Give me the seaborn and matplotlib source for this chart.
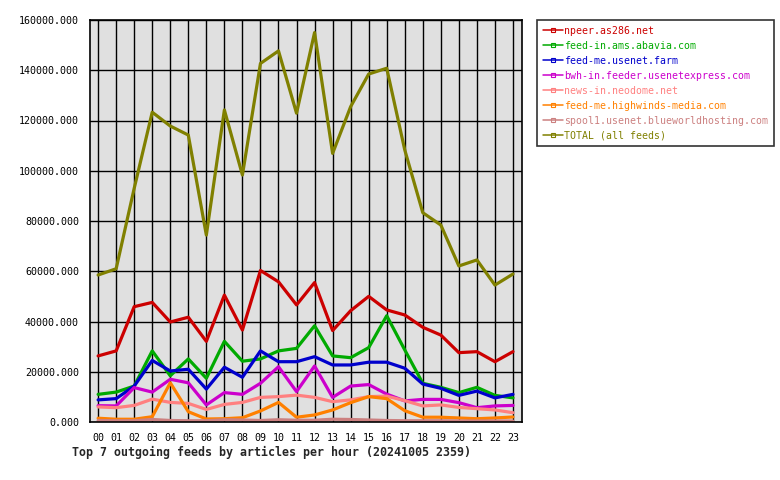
import matplotlib
matplotlib.use("Agg")
import matplotlib.pyplot as plt
from matplotlib.lines import Line2D
import seaborn as sns
import pandas as pd

hours = ["00", "01", "02", "03", "04", "05", "06", "07", "08", "09", "10", "11",
         "12", "13", "14", "15", "16", "17", "18", "19", "20", "21", "22", "23"]

npeer = [26300, 28300, 45900, 47600, 39800, 41700, 32100, 50500, 36600, 60300, 55800, 46600,
         55500, 36400, 44300, 50000, 44600, 42600, 37700, 34600, 27600, 28000, 24000, 28000]
abavia = [11000, 11900, 14300, 28300, 18400, 25100, 17400, 32100, 24200, 25100, 28300, 29300,
          38300, 26300, 25600, 29600, 42300, 28700, 15400, 13800, 11700, 13800, 10600, 9600]
usenetfarm = [8800, 9300, 14300, 24500, 20300, 21000, 13100, 21800, 17800, 28300, 24000, 24000,
              26000, 22700, 22700, 23800, 23800, 21400, 15100, 13400, 10600, 12300, 9600, 11000]
usenetexpress = [6500, 6400, 13700, 11900, 17000, 15600, 6800, 11700, 11000, 15400, 22000, 12100,
                 22300, 9800, 14300, 14900, 11100, 8400, 9000, 9000, 7700, 5700, 6400, 6600]
neodome = [6000, 5700, 6600, 9100, 7800, 7400, 5000, 7000, 7800, 9800, 10100, 10700,
           9800, 8100, 8800, 10100, 10300, 8500, 6400, 6800, 5800, 5300, 4800, 3700]
highwinds = [1500, 1100, 1100, 2100, 15600, 4100, 1200, 1300, 1700, 4400, 7800, 1900,
             2800, 4800, 7700, 10100, 9300, 4500, 1900, 1900, 1600, 1300, 1600, 2000]
blueworld = [600, 500, 500, 1000, 600, 500, 500, 900, 800, 600, 900, 700,
             700, 1100, 1000, 800, 600, 500, 500, 500, 400, 400, 400, 400]
total = [58500, 61000, 93000, 123300, 117800, 114200, 74400, 124200, 98300, 142700, 147700, 122900,
         155000, 106900, 125500, 138500, 140800, 108300, 83300, 78400, 62100, 64500, 54500, 58900]

names = ["npeer.as286.net", "feed-in.ams.abavia.com", "feed-me.usenet.farm",
         "bwh-in.feeder.usenetexpress.com", "news-in.neodome.net",
         "feed-me.highwinds-media.com", "spool1.usenet.blueworldhosting.com",
         "TOTAL (all feeds)"]
series = [npeer, abavia, usenetfarm, usenetexpress, neodome, highwinds, blueworld, total]
colors = ["#cc0000", "#00aa00", "#0000cc", "#cc00cc", "#ff8080", "#ff8000", "#cc8080", "#808000"]

rows = []
for name, vals in zip(names, series):
    for i, v in enumerate(vals):
        rows.append({"hour": i, "feed": name, "articles": v})
df = pd.DataFrame(rows)

sns.set_style("white")
plt.rcParams["font.family"] = ["DejaVu Sans Mono", "DejaVu Sans"]

fig = plt.figure(figsize=(7.8, 4.8), dpi=100)
ax = fig.add_axes([90 / 780, 1 - 422 / 480, (522 - 90) / 780, (422 - 20) / 480])
ax.set_facecolor("#e0e0e0")

sns.lineplot(data=df, x="hour", y="articles", hue="feed", hue_order=names,
             palette=dict(zip(names, colors)), linewidth=2.3, ax=ax, legend=False,
             sort=False)

ax.set_xlim(-0.45, 23.5)
ax.set_ylim(0, 160000)
ax.set_xticks(range(24))
ax.set_xticklabels(hours)
yt = list(range(0, 160001, 20000))
ax.set_yticks(yt)
ax.set_yticklabels([f"{v}.000" for v in yt])
ax.grid(True, color="black", linewidth=1.0)
ax.set_axisbelow(True)
for s in ax.spines.values():
    s.set_color("black")
    s.set_linewidth(1.2)
ax.tick_params(axis="both", direction="out", length=5, width=1.2, color="black",
               labelsize=7.2, labelcolor="black", pad=3)
ax.set_xlabel("")
ax.set_ylabel("")

handles = [Line2D([0], [0], color=c, linewidth=1.1, marker="s", markersize=3,
                  markerfacecolor="none", markeredgecolor=c, markeredgewidth=0.8)
           for c in colors]
leg = fig.legend(handles, names, loc="upper left",
                 bbox_to_anchor=(537 / 780, 1 - 20 / 480), frameon=True, fancybox=False,
                 edgecolor="black", fontsize=7.1, handlelength=2.0, handletextpad=0.15,
                 borderpad=0.6, labelspacing=0.5, borderaxespad=0)
leg.get_frame().set_linewidth(1.2)
for t, c in zip(leg.get_texts(), colors):
    t.set_color(c)

fig.text(72 / 780, 1 - 452 / 480, "Top 7 outgoing feeds by articles per hour (20241005 2359)",
         fontsize=8.4, fontweight="bold", va="center", ha="left")

fig.savefig("out.png", dpi=100, facecolor="white")
